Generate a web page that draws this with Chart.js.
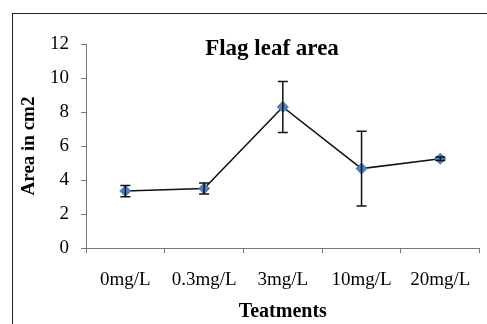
<!DOCTYPE html>
<html>
<head>
<meta charset="utf-8">
<script src="https://cdn.jsdelivr.net/npm/chart.js@4"></script>
<style>
  html, body { margin: 0; padding: 0; background: #fff; }
  #wrap { position: relative; width: 487px; height: 324px; }
  #frame { position: absolute; left: 12px; top: 13px; width: 490px; height: 330px; border: 1px solid #222; box-sizing: border-box; }
  canvas { position: absolute; left: 0; top: 0; }
</style>
</head>
<body>
<div id="wrap">
  <div id="frame"></div>
  <canvas id="chart" width="487" height="324"></canvas>
</div>
<script>
const treatments = ["0mg/L", "0.3mg/L", "3mg/L", "10mg/L", "20mg/L"];
const leafArea = [3.35, 3.5, 8.3, 4.67, 5.25];
const leafAreaErr = [0.33, 0.33, 1.5, 2.2, 0.1];
const yTicks = [0, 2, 4, 6, 8, 10, 12];

const serif = "'Liberation Serif', 'Times New Roman', serif";

// error bars + title drawn on top of the chart
const errorBars = {
  id: 'errorBars',
  afterDatasetsDraw(chart) {
    const ctx = chart.ctx;
    const x = chart.scales.x, y = chart.scales.y;
    ctx.save();
    ctx.strokeStyle = '#111';
    ctx.lineWidth = 1.5;
    leafArea.forEach((v, i) => {
      const px = x.getPixelForValue(i);
      const top = y.getPixelForValue(v + leafAreaErr[i]);
      const bot = y.getPixelForValue(v - leafAreaErr[i]);
      ctx.beginPath();
      ctx.moveTo(px, top); ctx.lineTo(px, bot);
      ctx.moveTo(px - 5, top); ctx.lineTo(px + 5, top);
      ctx.moveTo(px - 5, bot); ctx.lineTo(px + 5, bot);
      ctx.stroke();
    });
    ctx.restore();
  },
  afterDraw(chart) {
    const ctx = chart.ctx;
    ctx.save();
    ctx.font = "bold 23px " + serif;
    ctx.fillStyle = '#000';
    ctx.textAlign = 'center';
    ctx.textBaseline = 'alphabetic';
    ctx.fillText('Flag leaf area', 272, 55);
    ctx.restore();
  }
};

new Chart(document.getElementById('chart'), {
  type: 'line',
  data: {
    labels: treatments,
    datasets: [{
      data: leafArea,
      borderColor: '#111',
      borderWidth: 1.5,
      pointStyle: 'rectRot',
      pointRadius: 5,
      pointBackgroundColor: '#4F81BD',
      pointBorderColor: '#4F81BD',
      tension: 0
    }]
  },
  options: {
    responsive: false,
    animation: false,
    layout: { padding: { top: 44, right: 1, left: 0, bottom: 0 } },
    plugins: { legend: { display: false }, tooltip: { enabled: false }, title: { display: false } },
    scales: {
      x: {
        type: 'category',
        offset: true,
        grid: { display: true, offset: true, drawOnChartArea: false, drawTicks: true, tickLength: 5, color: '#777' },
        border: { display: true, color: '#777', width: 1 },
        ticks: { color: '#000', font: { family: serif, size: 19 }, padding: 16, maxRotation: 0 },
        title: { display: true, text: 'Teatments', color: '#000', font: { family: serif, size: 20, weight: 'bold' }, padding: { top: 6, bottom: 0 } },
        afterFit(scale) { scale.height = 76; }
      },
      y: {
        min: 0,
        max: 12,
        afterBuildTicks(scale) { scale.ticks = yTicks.map(v => ({ value: v })); },
        grid: { display: true, drawOnChartArea: false, drawTicks: true, tickLength: 5, color: '#777' },
        border: { display: true, color: '#777', width: 1 },
        ticks: { color: '#000', font: { family: serif, size: 19 }, padding: 12 },
        title: { display: true, text: 'Area in cm2', color: '#000', font: { family: serif, size: 19, weight: 'bold' }, padding: { top: 18, bottom: 0 } },
        afterFit(scale) { scale.width = 86; }
      }
    }
  },
  plugins: [errorBars]
});
</script>
</body>
</html>
